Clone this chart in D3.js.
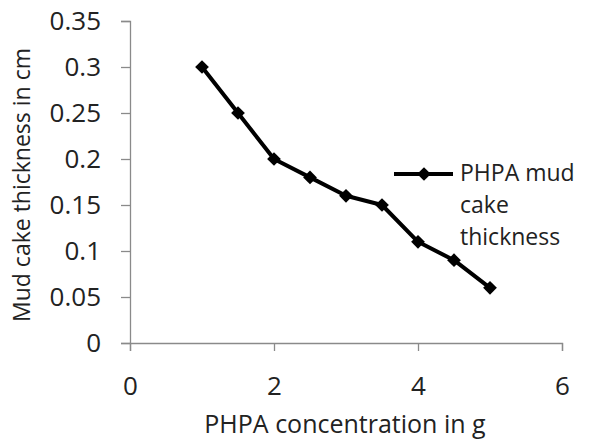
<!DOCTYPE html>
<html>
<head>
<meta charset="utf-8">
<script src="https://cdn.jsdelivr.net/npm/d3@7"></script>
<style>
  body { margin: 0; background: #fff; }
  text { font-family: "Open Sans", "Noto Sans", sans-serif; fill: #222; }
</style>
</head>
<body>
<svg width="590" height="444"></svg>
<script>
const concentration = [1, 1.5, 2, 2.5, 3, 3.5, 4, 4.5, 5];
const thickness = [0.30, 0.25, 0.20, 0.18, 0.16, 0.15, 0.11, 0.09, 0.06];
const xTicks = [0, 2, 4, 6];
const yTicks = [0, 0.05, 0.1, 0.15, 0.2, 0.25, 0.3, 0.35];
const legendLines = ["PHPA mud", "cake", "thickness"];

const svg = d3.select("svg");
const axisColor = "#8a8a8a";
const tickFont = 26;

const x = d3.scaleLinear().domain([0, 6]).range([130, 562]);
const y = d3.scaleLinear().domain([0, 0.35]).range([343, 21]);

// y axis
const yAxis = svg.append("g")
    .attr("transform", `translate(${x(0)},0)`)
    .call(d3.axisLeft(y).tickValues(yTicks).tickSize(9).tickPadding(20)
      .tickFormat(d => String(+d.toFixed(2))));

// x axis
const xAxis = svg.append("g")
    .attr("transform", `translate(0,${y(0)})`)
    .call(d3.axisBottom(x).tickValues(xTicks).tickSize(8).tickPadding(26)
      .tickFormat(d3.format("d")));

[yAxis, xAxis].forEach(a => {
  a.attr("font-size", null).attr("font-family", null);
  a.select(".domain").attr("stroke", axisColor).attr("stroke-width", 1.3);
  a.selectAll(".tick line").attr("stroke", axisColor).attr("stroke-width", 1.3);
  a.selectAll(".tick text")
      .style("font-family", "'Open Sans', 'Noto Sans', sans-serif")
      .style("font-size", tickFont + "px")
      .style("fill", "#222");
});

// axis titles
svg.append("text")
    .attr("x", 345)
    .attr("y", 433)
    .attr("text-anchor", "middle")
    .style("font-size", "25px")
    .text("PHPA concentration in g");

svg.append("text")
    .attr("transform", "translate(30,185) rotate(-90)")
    .attr("text-anchor", "middle")
    .style("font-size", "23px")
    .text("Mud cake thickness in cm");

// series
const pts = concentration.map((c, i) => [c, thickness[i]]);
const line = d3.line().x(d => x(d[0])).y(d => y(d[1]));

svg.append("path")
    .attr("d", line(pts))
    .attr("fill", "none")
    .attr("stroke", "#000")
    .attr("stroke-width", 4)
    .attr("stroke-linejoin", "round");

const diamond = d3.symbol().type(d3.symbolDiamond2).size(120);

svg.selectAll(".marker")
  .data(pts)
  .join("path")
    .attr("class", "marker")
    .attr("transform", d => `translate(${x(d[0])},${y(d[1])})`)
    .attr("d", diamond)
    .attr("fill", "#000");

// legend
const legend = svg.append("g").attr("transform", "translate(394,174)");
legend.append("line")
    .attr("x1", 0).attr("x2", 59)
    .attr("stroke", "#000").attr("stroke-width", 4);
legend.append("path")
    .attr("transform", "translate(30,0)")
    .attr("d", diamond)
    .attr("fill", "#000");
legend.selectAll(".lt")
  .data(legendLines)
  .join("text")
    .attr("class", "lt")
    .attr("x", 66)
    .attr("y", (d, i) => 7 + i * 32)
    .style("font-size", "23px")
    .text(d => d);
</script>
</body>
</html>
